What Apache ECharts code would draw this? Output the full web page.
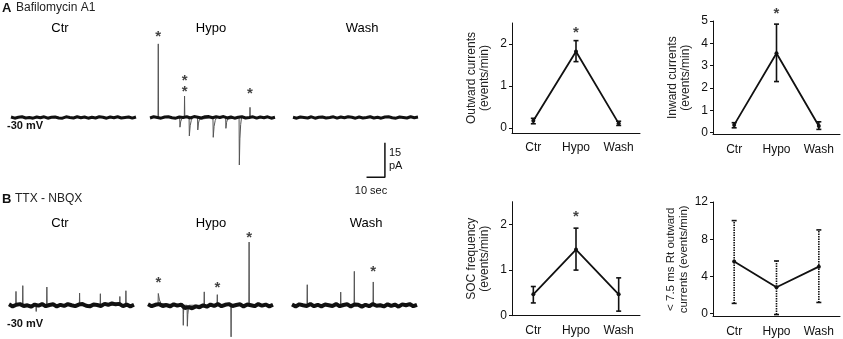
<!DOCTYPE html>
<html>
<head>
<meta charset="utf-8">
<script src="https://cdn.jsdelivr.net/npm/echarts@6/dist/echarts.min.js"></script>
<style>
  html, body { margin: 0; padding: 0; background: #fff; }
  #chart { width: 843px; height: 339px; }
</style>
</head>
<body>
<div id="chart"></div>
<script>
var conditions = ['Ctr', 'Hypo', 'Wash'];

// recordings: baseline noise sampled every 2 s (pA)
var sampleStep = 2;
var traceLength = 68;
var aCtrNoise = [0.2,-0.3,0.1,0.3,-0.2,0.0,-0.3,0.2,-0.1,0.3,-0.3,0.1,0.2,-0.2,-0.3,0.3,0.0,-0.2,0.3,-0.1,0.2,-0.3,0.1,-0.2,0.3,0.1,-0.3,0.2,-0.1,0.3,-0.2,0.0,0.2,-0.3,0.2];
var aHypoNoise = [-0.2,0.3,0.0,-0.3,0.2,0.3,-0.1,-0.3,0.2,0.0,0.3,-0.2,0.4,0.1,-0.2,0.3,0.4,-0.1,0.3,0.0,0.4,-0.2,0.2,-0.3,0.1,0.3,-0.2,0.0,0.3,-0.3,0.2,-0.1,0.3,-0.3,0.1];
var aWashNoise = [0.1,-0.3,0.2,0.0,-0.2,0.3,-0.3,0.1,0.2,-0.2,0.0,0.3,-0.3,0.2,-0.1,0.3,0.1,-0.3,0.2,-0.2,0.0,0.3,-0.2,0.1,-0.3,0.2,0.3,-0.1,-0.3,0.2,0.0,-0.2,0.3,-0.1,0.2];
var bCtrNoise = [0.4,-0.5,0.2,0.5,-0.3,0.0,-0.6,0.3,-0.2,0.5,-0.4,0.1,0.4,-0.5,0.2,-0.3,0.5,0.0,-0.4,0.3,0.5,-0.2,-0.5,0.3,0.1,-0.3,0.6,0.2,0.8,0.4,0.6,-0.4,0.3,-0.5,0.2];
var bHypoNoise = [0.4,-0.4,0.2,0.5,-0.3,0.1,-0.5,0.4,-0.2,0.3,-1.2,-0.8,-1.3,-0.5,-0.9,0.0,-0.6,0.3,-0.3,0.5,-0.4,0.2,0.5,-0.3,0.1,0.4,-0.5,0.3,0.0,-0.4,0.5,-0.2,0.3,-0.5,0.2];
var bWashNoise = [0.3,-0.5,0.4,0.0,-0.3,0.5,-0.4,0.2,-0.5,0.3,0.0,-0.3,0.5,-0.4,0.1,0.4,-0.5,0.3,0.2,-0.6,0.2,-0.4,0.5,-0.2,0.0,-0.5,0.4,-0.3,0.3,-0.6,0.4,0.0,0.5,-0.4,0.2];

// events: [time s, peak pA, recovery s]
var aCtrEvents = [];
var aHypoEvents = [[4.5,31.9,0],[16.3,-4.2,1.5],[18.8,9.3,0],[21.4,-8.0,1.8],[26.0,-5.4,1.5],[34.4,-8.6,1.8],[41.3,-4.7,1.5],[48.6,-20.6,1.2],[54.4,4.4,0]];
var aWashEvents = [];
var bCtrEvents = [[3.8,6.0,0],[7.5,8.5,0],[14.8,-2.7,0],[20.6,7.9,0],[38.4,5.3,0],[49.7,5.0,0],[60.3,3.8,0],[63.6,6.3,0]];
var bHypoEvents = [[5.6,5.1,2.5],[19.2,-8.7,0.4],[21.4,-9.1,1.0],[30.6,5.8,0],[37.7,4.6,0],[45.2,-13.7,0],[55.0,27.4,0]];
var bWashEvents = [[8.3,8.9,0],[26.5,5.7,0],[33.9,14.7,0],[44.2,10.1,0]];

// significance marks on traces [time s, pA]
var aHypoStars = [[4.5,36.6],[18.8,17.7],[18.8,12.9],[54.4,11.9]];
var bHypoStars = [[5.6,11.6],[37.7,9.4],[55.0,31.1]];
var bWashStars = [[44.2,16.3]];

var scaleBarTime = 10;   // sec
var scaleBarAmp = 15;    // pA

// summary plots
var outwardMean = [0.17, 1.82, 0.11];
var outwardLow = [0.10, 1.58, 0.06];
var outwardHigh = [0.23, 2.08, 0.16];
var inwardMean = [0.35, 3.56, 0.30];
var inwardLow = [0.22, 2.29, 0.15];
var inwardHigh = [0.45, 4.86, 0.49];
var socMean = [0.47, 1.45, 0.47];
var socLow = [0.28, 1.00, 0.10];
var socHigh = [0.64, 1.92, 0.83];
var fastMean = [5.6, 2.83, 5.05];
var fastLow = [1.1, -0.1, 1.2];
var fastHigh = [10.0, 5.66, 9.0];
var starOutward = 2.37, starInward = 5.49, starSoc = 2.26;

var FONT = 'Liberation Sans, Arial, sans-serif';
var INK = '#111';

function bandPoints(noise) {
  return noise.map(function (v, i) { return [i * sampleStep, v]; });
}
function eventPoints(events) {
  var pts = [[0, 0]];
  events.forEach(function (e) {
    var t = e[0], a = e[1], rec = e[2];
    pts.push([t - 0.15, 0], [t, a]);
    if (rec > 0) {
      pts.push([t + rec * 0.25, a * 0.45], [t + rec * 0.6, a * 0.15], [t + rec, 0]);
    } else {
      pts.push([t + 0.15, 0]);
    }
  });
  pts.push([traceLength, 0]);
  return pts;
}

var chart = echarts.init(document.getElementById('chart'), null, { renderer: 'canvas' });

var grids = [
  { left: 11, top: 25.2, width: 125, height: 161.5 },
  { left: 150, top: 25.2, width: 125, height: 161.5 },
  { left: 293, top: 25.2, width: 125, height: 161.5 },
  { left: 9, top: 217.6, width: 125, height: 121.1 },
  { left: 148, top: 217.6, width: 125, height: 121.1 },
  { left: 292, top: 217.6, width: 125, height: 121.1 },
  { left: 512, top: 23, width: 128, height: 110 },
  { left: 713, top: 21, width: 127, height: 113.3 },
  { left: 512, top: 201.7, width: 128, height: 114 },
  { left: 713, top: 202, width: 127, height: 114.6 }
];

var xAxes = [], yAxes = [], series = [];
var traces = [
  { noise: aCtrNoise, events: aCtrEvents, stars: [], band: 3, yr: [-30, 40] },
  { noise: aHypoNoise, events: aHypoEvents, stars: aHypoStars, band: 3, yr: [-30, 40] },
  { noise: aWashNoise, events: aWashEvents, stars: [], band: 3, yr: [-30, 40] },
  { noise: bCtrNoise, events: bCtrEvents, stars: [], band: 4, yr: [-14.5, 38] },
  { noise: bHypoNoise, events: bHypoEvents, stars: bHypoStars, band: 4, yr: [-14.5, 38] },
  { noise: bWashNoise, events: bWashEvents, stars: bWashStars, band: 4, yr: [-14.5, 38] }
];

function starSeries(xi, yi, data, size) {
  return {
    type: 'scatter', xAxisIndex: xi, yAxisIndex: yi, data: data, clip: false,
    symbolSize: 1, itemStyle: { color: 'rgba(0,0,0,0)' }, silent: true,
    label: { show: true, position: 'inside', formatter: '*', offset: [0, 4],
      fontSize: size, fontWeight: 'bold', fontFamily: FONT, color: INK }
  };
}

traces.forEach(function (tr, i) {
  xAxes.push({ gridIndex: i, type: 'value', min: 0, max: traceLength, show: false });
  yAxes.push({ gridIndex: i, type: 'value', min: tr.yr[0], max: tr.yr[1], show: false });
  series.push({
    type: 'line', xAxisIndex: i, yAxisIndex: i, data: eventPoints(tr.events),
    symbol: 'none', clip: false, z: 2, lineStyle: { color: '#555', width: 1 }
  });
  series.push({
    type: 'line', xAxisIndex: i, yAxisIndex: i, data: bandPoints(tr.noise),
    symbol: 'none', clip: false, z: 3, lineStyle: { color: '#111', width: tr.band }
  });
  if (tr.stars.length) series.push(starSeries(i, i, tr.stars, 15));
});

// scale bar, drawn in the A-Wash trace axes
var barCorner = [50, -25.9];
series.push({
  type: 'line', xAxisIndex: 2, yAxisIndex: 2, symbol: 'none', clip: false,
  lineStyle: { color: INK, width: 1.5 },
  data: [[barCorner[0] - scaleBarTime, barCorner[1]], barCorner, [barCorner[0], barCorner[1] + scaleBarAmp]]
});

var summaries = [
  { mean: outwardMean, lo: outwardLow, hi: outwardHigh, yr: [-0.12, 2.5], ticks: [0, 1, 2],
    name: 'Outward currents\n(events/min)', star: starOutward, dash: null, nameSize: 12 },
  { mean: inwardMean, lo: inwardLow, hi: inwardHigh, yr: [-0.07, 5], ticks: [0, 1, 2, 3, 4, 5],
    name: 'Inward currents\n(events/min)', star: starInward, dash: null, nameSize: 12 },
  { mean: socMean, lo: socLow, hi: socHigh, yr: [0, 2.5], ticks: [0, 1, 2],
    name: 'SOC frequency\n(events/min)', star: starSoc, dash: null, nameSize: 12 },
  { mean: fastMean, lo: fastLow, hi: fastHigh, yr: [-0.32, 12], ticks: [0, 4, 8, 12],
    name: '< 7.5 ms Rt outward\ncurrents (events/min)', star: null, dash: [1.5, 1], nameSize: 11.5 }
];

summaries.forEach(function (s, k) {
  var gi = 6 + k;
  xAxes.push({
    gridIndex: gi, type: 'category', data: conditions, boundaryGap: true,
    axisLine: { onZero: false, lineStyle: { color: INK, width: 1 } },
    axisTick: { alignWithLabel: true, length: 5, lineStyle: { color: INK } },
    axisLabel: { color: INK, fontSize: 12, fontFamily: FONT, margin: 9 },
    splitLine: { show: false }
  });
  yAxes.push({
    gridIndex: gi, type: 'value', min: s.yr[0], max: s.yr[1],
    name: s.name, nameLocation: 'middle', nameRotate: 90, nameGap: 21,
    nameTextStyle: { color: '#222', fontSize: s.nameSize, fontFamily: FONT, lineHeight: 13 },
    axisLine: { show: true, lineStyle: { color: INK, width: 1 } },
    axisTick: { show: true, length: 3, customValues: s.ticks, lineStyle: { color: INK } },
    axisLabel: { color: INK, fontSize: 12, fontFamily: FONT, margin: 5, customValues: s.ticks },
    splitLine: { show: false }
  });
  var dash = s.dash;
  series.push({
    type: 'custom', xAxisIndex: gi, yAxisIndex: gi, z: 3,
    data: s.mean.map(function (m, i) { return [i, s.lo[i], s.hi[i]]; }),
    renderItem: function (params, api) {
      var lo = api.coord([api.value(0), api.value(1)]);
      var hi = api.coord([api.value(0), api.value(2)]);
      var w = 2.5;
      var st = { stroke: INK, lineWidth: 1.6, lineDash: dash };
      return { type: 'group', children: [
        { type: 'line', shape: { x1: lo[0], y1: lo[1], x2: hi[0], y2: hi[1] }, style: st },
        { type: 'line', shape: { x1: hi[0] - w, y1: hi[1], x2: hi[0] + w, y2: hi[1] }, style: { stroke: INK, lineWidth: 1.6 } },
        { type: 'line', shape: { x1: lo[0] - w, y1: lo[1], x2: lo[0] + w, y2: lo[1] }, style: { stroke: INK, lineWidth: 1.6 } }
      ] };
    }
  });
  series.push({
    type: 'line', xAxisIndex: gi, yAxisIndex: gi, data: s.mean, z: 4,
    symbol: 'circle', symbolSize: 4, itemStyle: { color: INK },
    lineStyle: { color: INK, width: 1.8 }
  });
  if (s.star !== null) series.push(starSeries(gi, gi, [[1, s.star]], 15));
});

function txt(x, y, text, size, opts) {
  opts = opts || {};
  return {
    type: 'text', x: x, y: y, silent: true,
    style: {
      text: text, fill: opts.fill || INK, fontSize: size, fontFamily: FONT,
      fontWeight: opts.bold ? 'bold' : 'normal',
      align: opts.align || 'left', verticalAlign: 'middle'
    }
  };
}

var graphics = [
  txt(2, 8, 'A', 13, { bold: true }),
  txt(16, 8, 'Bafilomycin A1', 12, { fill: '#222' }),
  txt(60, 28, 'Ctr', 13, { align: 'center', fill: '#000' }),
  txt(211, 28, 'Hypo', 13, { align: 'center', fill: '#000' }),
  txt(362, 28, 'Wash', 13, { align: 'center', fill: '#000' }),
  txt(7, 126, '-30 mV', 11, { bold: true }),
  txt(389, 153, '15', 11),
  txt(389, 166, 'pA', 11),
  txt(371, 191, '10 sec', 11, { align: 'center' }),
  txt(2, 199, 'B', 13, { bold: true }),
  txt(15, 199, 'TTX - NBQX', 12, { fill: '#222' }),
  txt(60, 223, 'Ctr', 13, { align: 'center', fill: '#000' }),
  txt(211, 223, 'Hypo', 13, { align: 'center', fill: '#000' }),
  txt(366, 223, 'Wash', 13, { align: 'center', fill: '#000' }),
  txt(7, 324, '-30 mV', 11, { bold: true })
];

chart.setOption({
  animation: false,
  backgroundColor: '#fff',
  grid: grids,
  xAxis: xAxes,
  yAxis: yAxes,
  series: series,
  graphic: graphics
});
</script>
</body>
</html>
